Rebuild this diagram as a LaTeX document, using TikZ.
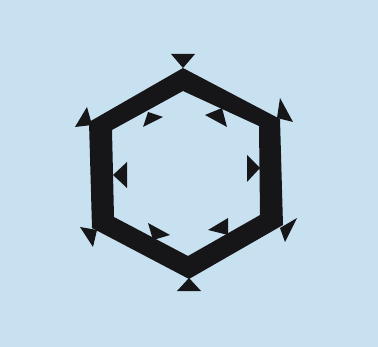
\documentclass[tikz,border=0pt]{standalone}
\definecolor{paper}{RGB}{200,225,241}
\definecolor{ink}{RGB}{22,22,24}
\tikzset{
  ring/.style={fill=ink,even odd rule,line join=round},
  spike/.style={fill=ink,line join=round}
}
\begin{document}
\begin{tikzpicture}[x=0.02cm,y=-0.02cm]
    \fill[paper] (0,0) rectangle (378,347);
    \useasboundingbox (0,0) rectangle (378,347);

    % outer and inner corners of the ring
    \coordinate (ot) at (183,68);  \coordinate (it) at (183,91);
    \coordinate (our) at (280,119); \coordinate (iur) at (259,126);
    \coordinate (olr) at (283,225); \coordinate (ilr) at (260,215);
    \coordinate (ob) at (189,279);  \coordinate (ib) at (188,256);
    \coordinate (oll) at (92,228);  \coordinate (ill) at (114,217);
    \coordinate (oul) at (89,122);  \coordinate (iul) at (112,130);

    \path[ring] (ot) -- (our) -- (olr) -- (ob) -- (oll) -- (oul) -- cycle
                (it) -- (iur) -- (ilr) -- (ib) -- (ill) -- (iul) -- cycle;

    % spikes outside, tip on the corner
    \path[spike] (171,54) -- (195,54) -- (ot) -- cycle;
    \path[spike] (280,98) -- (293,122) -- (277,118) -- cycle;
    \path[spike] (297,218) -- (285,242) -- (280,228) -- cycle;
    \path[spike] (177,291) -- (201,291) -- (189,278) -- cycle;
    \path[spike] (80,227) -- (93,247) -- (97,230) -- cycle;
    \path[spike] (87,107) -- (75,127) -- (92,125) -- cycle;

    % spikes inside
    \path[spike] (148,112) -- (143,127) -- (163,117) -- cycle;
    \path[spike] (222,108) -- (227,127) -- (205,115) -- cycle;
    \path[spike] (247,155) -- (247,182) -- (260,168) -- cycle;
    \path[spike] (228,218) -- (228,235) -- (208,230) -- cycle;
    \path[spike] (148,223) -- (153,240) -- (170,235) -- cycle;
    \path[spike] (127,162) -- (127,188) -- (113,175) -- cycle;
\end{tikzpicture}
\end{document}
